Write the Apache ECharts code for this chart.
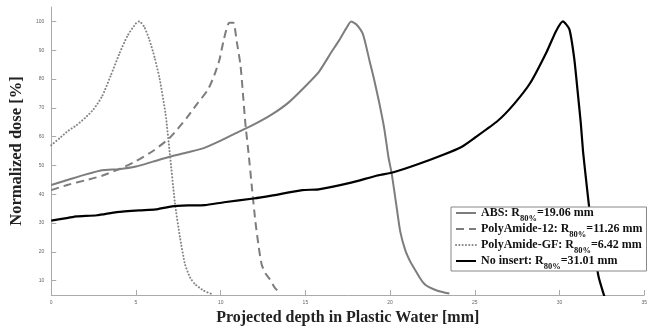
<!DOCTYPE html>
<html>
<head>
<meta charset="utf-8">
<script src="https://cdn.jsdelivr.net/npm/echarts@6/dist/echarts.min.js"></script>
<style>html,body{margin:0;padding:0;background:#fff}#c{width:650px;height:331px}</style>
</head>
<body>
<div id="c"></div>
<script>
const seriesNames = ['ABS', 'PolyAmide-12', 'PolyAmide-GF', 'No insert'];
const r80Values = ['19.06', '11.26', '6.42', '31.01'];
const xTicks = [0, 5, 10, 15, 20, 25, 30, 35];
const yTicks = [10, 20, 30, 40, 50, 60, 70, 80, 90, 100];

const absData = [[0,43.2],[1,45],[2,46.8],[3,48.3],[4,48.7],[5,49.6],[6,51.3],[7,53],[8,54.5],[9,56],[10,58.6],[11,61.5],[12,64.3],[13,67.6],[14,71.8],[15,77.5],[15.8,82.5],[16.5,89],[17,93.5],[17.4,97.5],[17.7,100],[18,99],[18.4,95.5],[18.8,86],[19.05,80],[19.35,72],[19.65,63],[19.9,53],[20.1,47],[20.35,37],[20.6,27],[20.9,20.5],[21.2,16.5],[21.5,13.5],[21.75,11],[22.0,9],[22.3,7.7],[22.8,6.5],[23.5,5.5]];
const pa12Data = [[0,41.4],[1,43.3],[2,44.8],[3,46.4],[4,48.7],[5,51.5],[6,55],[7,59.6],[8,66.5],[8.6,71.3],[9.25,76.3],[9.63,81.4],[9.92,86.5],[10.2,94],[10.5,99.5],[10.75,99.5],[10.95,93],[11.17,84.8],[11.3,76],[11.46,64.4],[11.65,54],[11.85,42],[12.05,30.5],[12.25,21.5],[12.42,15.6],[12.65,12.5],[12.9,10.5],[13.2,7.5],[13.57,5.4]];
const pagfData = [[0,57],[0.5,59.5],[1,62],[1.5,64],[2,66.5],[2.5,69.5],[3,74],[3.5,81],[4,88.5],[4.5,95],[5,99.3],[5.2,100],[5.5,98],[5.8,93.5],[6.1,87.5],[6.4,80],[6.75,67.8],[7.0,54],[7.3,37],[7.6,25],[7.9,15.6],[8.2,11],[8.5,8.7],[9,6.5],[9.44,5.4]];
const noInsertData = [[0,30.8],[1,31.8],[1.5,32.3],[2.7,32.7],[3.86,33.8],[5.2,34.4],[6.17,34.7],[7.13,35.8],[8.09,36.1],[9.05,36.2],[10.2,37.2],[11.94,38.5],[13,39.5],[14.82,41.4],[15.78,41.7],[17.7,44],[19.24,46.5],[20.2,47.6],[21.55,50.2],[23.1,53.6],[24.24,56.5],[25,59.6],[26.36,65.5],[27.3,71.2],[28.27,78.6],[29.24,89.4],[29.8,96.7],[30.2,100],[30.58,97.3],[30.87,87.1],[31.07,75.7],[31.26,64.4],[31.39,54.8],[31.55,46],[31.7,38],[31.9,28],[32.1,19],[32.3,11.5],[32.6,5.4],[32.75,3]];

const serif = '"Liberation Serif","Times New Roman",serif';
const chart = echarts.init(document.getElementById('c'), null, {renderer: 'canvas'});

function mkSeries(name, data, color, type, width, cap) {
  return {
    name: name, type: 'line', data: data, showSymbol: false, symbol: 'none',
    smooth: 0.2, animation: false,
    lineStyle: {color: color, width: width, type: type, cap: cap || 'butt'},
    itemStyle: {color: color}
  };
}

chart.setOption({
  animation: false,
  backgroundColor: '#fff',
  grid: {left: 43, right: 0, top: 7, bottom: 31, containLabel: false},
  xAxis: {
    type: 'value', min: xTicks[0], max: xTicks[xTicks.length - 1], interval: 5,
    name: 'Projected depth in Plastic Water [mm]', nameLocation: 'middle', nameGap: 15,
    nameTextStyle: {fontFamily: serif, fontWeight: 'bold', fontSize: 16, color: '#222', verticalAlign: 'top'},
    axisLine: {show: true, lineStyle: {color: '#aaa', width: 1}},
    axisTick: {show: true, inside: true, length: 5, lineStyle: {color: '#aaa'}},
    axisLabel: {fontSize: 5, color: '#666', margin: 5, fontFamily: 'Liberation Sans, Arial'},
    splitLine: {show: false}
  },
  yAxis: {
    type: 'value', min: 5, max: 105, splitNumber: 10, minInterval: 10, maxInterval: 10,
    name: 'Normalized dose [%]', nameLocation: 'middle', nameGap: 13,
    nameTextStyle: {fontFamily: serif, fontWeight: 'bold', fontSize: 16.5, color: '#222'},
    axisLine: {show: true, lineStyle: {color: '#aaa', width: 1}},
    axisTick: {show: true, inside: true, length: 5, lineStyle: {color: '#aaa'}},
    axisLabel: {fontSize: 5, color: '#666', margin: 7, showMinLabel: false, showMaxLabel: false,
      fontFamily: 'Liberation Sans, Arial',
      formatter: v => yTicks.indexOf(v) >= 0 ? String(v) : ''},
    splitLine: {show: false}
  },
  legend: {
    orient: 'vertical', left: 451, top: 207,
    padding: [0, 4, 0, 4], itemGap: 0, itemWidth: 20, itemHeight: 12,
    backgroundColor: '#fff', borderColor: '#888', borderWidth: 1,
    data: seriesNames,
    itemStyle: {opacity: 0},
    formatter: function (name) {
      const i = seriesNames.indexOf(name);
      return '{t|' + name + ': R}{s|80%}{t|=' + r80Values[i] + ' mm}';
    },
    textStyle: {
      rich: {
        t: {fontFamily: serif, fontWeight: 'bold', fontSize: 12, color: '#111', lineHeight: 20},
        s: {fontFamily: serif, fontWeight: 'bold', fontSize: 8.5, color: '#111', verticalAlign: 'bottom'}
      }
    }
  },
  series: [
    mkSeries(seriesNames[0], absData, '#7d7d7d', 'solid', 2),
    mkSeries(seriesNames[1], pa12Data, '#7d7d7d', [8, 5], 2),
    mkSeries(seriesNames[2], pagfData, '#858585', [0.1, 3.2], 2, 'round'),
    mkSeries(seriesNames[3], noInsertData, '#000', 'solid', 2.2)
  ]
});
</script>
</body>
</html>
